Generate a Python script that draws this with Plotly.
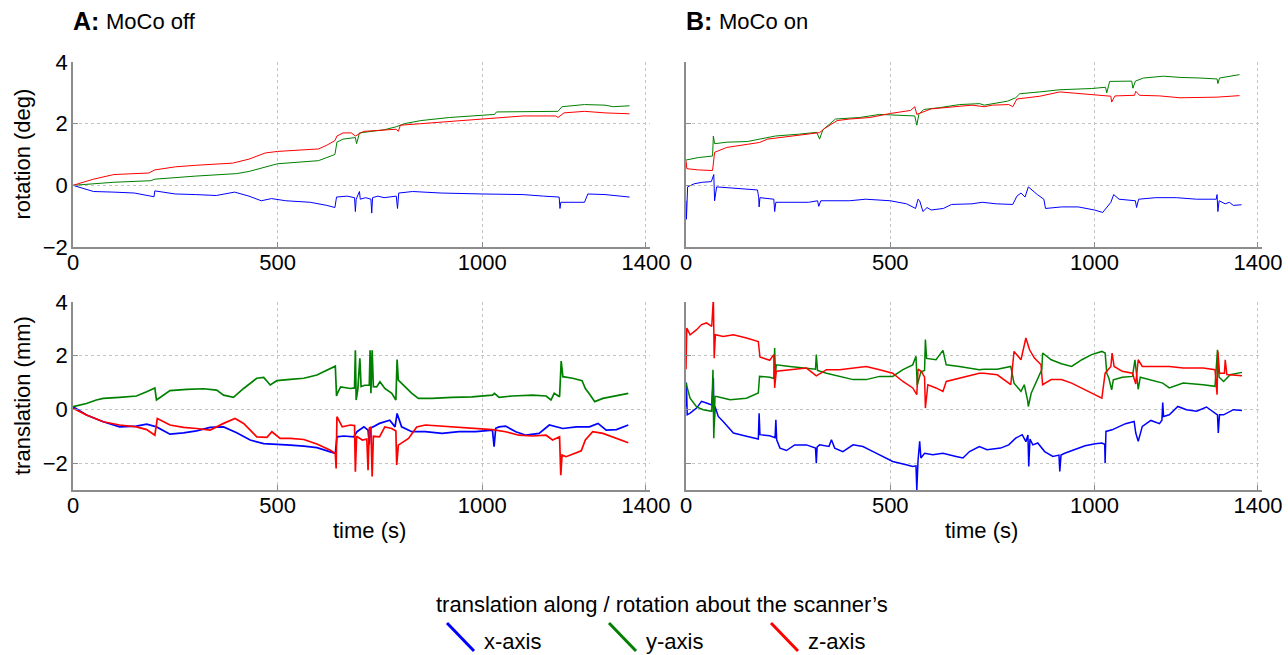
import plotly.graph_objects as go

# ---------------- data (time s, value) ----------------
# A: MoCo off, rotation (deg)
rotA_x = [(0,0),(50,-0.2),(100,-0.22),(150,-0.25),(190,-0.35),(198,-0.37),(200,-0.18),(250,-0.28),(300,-0.3),
          (350,-0.33),(395,-0.22),(430,-0.35),(460,-0.5),(485,-0.43),(520,-0.5),(580,-0.55),(620,-0.65),(640,-0.72),
          (644,-0.38),(670,-0.35),(688,-0.4),(690,-0.85),(692,-0.45),(700,-0.2),(702,-0.45),(715,-0.4),(728,-0.45),
          (730,-0.9),(732,-0.4),(745,-0.35),(760,-0.4),(790,-0.35),(793,-0.75),(796,-0.25),(830,-0.2),(900,-0.25),
          (1000,-0.28),(1050,-0.3),(1100,-0.3),(1150,-0.35),(1188,-0.38),(1190,-0.75),(1192,-0.55),(1250,-0.55),
          (1258,-0.28),(1300,-0.3),(1360,-0.38)]
rotA_y = [(0,0),(50,0.05),(100,0.1),(190,0.15),(200,0.2),(300,0.3),(400,0.38),(430,0.45),(470,0.6),(500,0.7),
          (550,0.75),(600,0.8),(640,1.0),(645,1.4),(660,1.5),(690,1.55),(693,1.35),(700,1.7),(760,1.8),(790,1.9),
          (810,2.0),(850,2.1),(920,2.2),(1000,2.27),(1030,2.3),(1035,2.38),(1150,2.4),(1185,2.4),(1195,2.55),
          (1250,2.62),(1300,2.6),(1320,2.55),(1360,2.58)]
rotA_z = [(0,0),(50,0.2),(100,0.35),(150,0.37),(185,0.4),(200,0.5),(250,0.6),(300,0.65),(350,0.7),(390,0.72),
          (430,0.85),(470,1.05),(500,1.1),(550,1.15),(600,1.18),(620,1.3),(640,1.45),(645,1.6),(660,1.7),(680,1.7),
          (690,1.6),(710,1.75),(760,1.8),(790,1.82),(795,1.75),(800,1.95),(850,2.0),(900,2.05),(950,2.1),(1000,2.15),
          (1050,2.2),(1100,2.25),(1180,2.25),(1185,2.2),(1200,2.35),(1250,2.4),(1300,2.35),(1360,2.32)]

# B: MoCo on, rotation (deg)
rotB_x = [(0,-0.5),(1,-1.1),(4,-0.05),(20,0.05),(40,0.1),(62,0.12),(68,0.35),(70,-0.5),(75,-0.05),(120,-0.1),
          (175,-0.15),(178,-0.4),(179,-0.7),(181,-0.4),(215,-0.45),(217,-0.85),(220,-0.55),(300,-0.55),(322,-0.5),
          (325,-0.68),(330,-0.5),(400,-0.5),(440,-0.45),(500,-0.5),(540,-0.6),(562,-0.75),(568,-0.45),(572,-0.5),
          (580,-0.85),(590,-0.72),(600,-0.8),(630,-0.75),(650,-0.62),(700,-0.6),(725,-0.55),(760,-0.6),(800,-0.62),
          (810,-0.35),(820,-0.25),(830,-0.38),(838,-0.05),(860,-0.3),(876,-0.45),(880,-0.75),(920,-0.7),(960,-0.7),
          (1000,-0.8),(1020,-0.88),(1030,-0.7),(1040,-0.55),(1047,-0.3),(1060,-0.45),(1100,-0.5),(1103,-0.72),
          (1108,-0.45),(1150,-0.4),(1200,-0.4),(1250,-0.45),(1298,-0.45),(1300,-0.3),(1302,-0.85),(1305,-0.5),
          (1320,-0.6),(1330,-0.55),(1340,-0.65),(1360,-0.63)]
rotB_y = [(0,0.82),(30,0.9),(65,0.95),(67,1.6),(70,1.35),(100,1.4),(150,1.42),(180,1.5),(219,1.6),(278,1.66),
          (320,1.72),(327,1.5),(335,1.8),(366,2.15),(425,2.2),(474,2.3),(523,2.27),(560,2.25),(565,1.95),(570,2.3),
          (582,2.46),(621,2.52),(670,2.62),(719,2.65),(730,2.6),(787,2.73),(807,2.84),(817,2.97),(866,3.03),
          (915,3.1),(993,3.14),(1027,3.18),(1030,3.0),(1037,3.37),(1091,3.38),(1094,3.15),(1100,3.38),(1120,3.48),
          (1169,3.54),(1209,3.5),(1258,3.48),(1300,3.45),(1302,3.3),(1306,3.48),(1355,3.59)]
rotB_z = [(0,0.8),(2,0.54),(30,0.5),(65,0.48),(70,1.07),(100,1.23),(150,1.33),(180,1.39),(200,1.5),(250,1.58),
          (300,1.65),(327,1.71),(340,1.85),(370,2.1),(400,2.15),(450,2.2),(500,2.33),(550,2.43),(560,2.55),
          (565,2.3),(600,2.48),(650,2.55),(700,2.6),(730,2.55),(750,2.6),(790,2.62),(800,2.55),(810,2.8),
          (866,2.89),(915,3.03),(993,2.95),(1030,2.9),(1040,2.89),(1042,2.7),(1050,2.9),(1098,2.92),(1101,3.05),
          (1110,2.92),(1160,2.9),(1209,2.84),(1258,2.84),(1300,2.86),(1355,2.91)]

# A: MoCo off, translation (mm)
trA_x = [(0,0.1),(33,-0.21),(74,-0.46),(114,-0.65),(155,-0.62),(180,-0.55),(204,-0.65),(237,-0.92),(270,-0.87),
         (302,-0.8),(335,-0.67),(368,-0.65),(400,-0.87),(433,-1.14),(466,-1.27),(498,-1.29),(531,-1.33),(564,-1.37),
         (596,-1.42),(629,-1.58),(641,-1.64),(645,-1.02),(662,-0.99),(686,-1.02),(694,-0.83),(711,-0.65),(721,-0.77),
         (724,-1.3),(727,-0.7),(749,-0.52),(774,-0.4),(787,-0.65),(792,-0.15),(803,-0.65),(828,-0.83),(861,-0.83),
         (902,-0.89),(943,-0.83),(984,-0.83),(1025,-0.77),(1029,-1.39),(1033,-0.7),(1041,-0.65),(1057,-0.62),
         (1082,-0.83),(1107,-0.96),(1139,-0.89),(1164,-0.58),(1180,-0.65),(1197,-0.71),(1230,-0.65),(1262,-0.65),
         (1283,-0.52),(1303,-0.77),(1328,-0.75),(1357,-0.58)]
trA_y = [(0,0.1),(33,0.22),(57,0.35),(74,0.41),(114,0.45),(155,0.5),(180,0.66),(200,0.8),(204,0.35),(221,0.53),
         (237,0.7),(278,0.75),(319,0.77),(351,0.72),(368,0.53),(392,0.45),(417,0.78),(449,1.16),(466,1.19),
         (482,0.91),(498,1.07),(531,1.12),(564,1.16),(596,1.28),(621,1.47),(641,1.61),(644,0.5),(646,0.6),
         (654,0.84),(678,0.78),(688,0.8),(690,2.2),(692,0.35),(696,0.75),(701,1.9),(704,0.85),(713,0.9),(724,0.9),
         (726,2.2),(728,0.6),(731,2.2),(734,0.85),(742,0.84),(750,1.03),(762,0.78),(779,0.6),(789,0.35),(792,1.86),
         (795,1.09),(811,0.84),(828,0.6),(844,0.41),(877,0.41),(926,0.45),(975,0.47),(1025,0.53),(1030,0.6),
         (1041,0.45),(1074,0.5),(1123,0.53),(1156,0.5),(1168,0.35),(1176,0.6),(1189,0.47),(1193,1.8),(1197,1.22),
         (1221,1.16),(1244,1.07),(1252,0.78),(1262,0.57),(1275,0.29),(1295,0.41),(1328,0.5),(1357,0.6)]
trA_z = [(0,0.04),(33,-0.21),(74,-0.46),(114,-0.58),(155,-0.65),(180,-0.75),(200,-0.96),(206,-0.34),(237,-0.58),
         (270,-0.67),(302,-0.71),(335,-0.77),(368,-0.52),(396,-0.34),(417,-0.52),(449,-1.02),(474,-1.04),
         (486,-0.83),(506,-1.08),(531,-1.08),(564,-1.12),(596,-1.29),(629,-1.52),(641,-1.64),(643,-2.2),
         (645,-0.27),(658,-0.65),(678,-0.58),(688,-0.6),(690,-2.32),(693,-1.0),(707,-1.14),(718,-1.1),(721,-2.26),
         (724,-0.7),(728,-0.65),(731,-2.5),(734,-1.0),(749,-1.02),(762,-0.65),(779,-0.71),(789,-0.8),(791,-2.07),
         (795,-1.33),(820,-1.08),(840,-0.65),(861,-0.58),(902,-0.62),(943,-0.65),(984,-0.71),(1025,-0.75),
         (1057,-0.83),(1090,-0.96),(1123,-0.99),(1156,-0.96),(1172,-1.14),(1189,-1.02),(1192,-2.45),(1195,-1.7),
         (1205,-1.76),(1221,-1.66),(1242,-1.54),(1252,-1.14),(1270,-0.83),(1295,-0.89),(1328,-1.08),(1357,-1.24)]

# B: MoCo on, translation (mm)
trB_x = [(0,0.1),(1,1.0),(3,-0.2),(10,-0.14),(26,0.05),(38,0.3),(50,0.24),(63,0.17),(67,1.17),(69,-0.63),
         (71,0.11),(79,-0.26),(91,-0.45),(116,-0.88),(148,-1.0),(177,-1.1),(179,-0.14),(181,-0.94),(205,-0.98),
         (218,-1.05),(220,-0.39),(222,-1.13),(230,-1.44),(246,-1.53),(266,-1.32),(295,-1.32),(317,-1.44),
         (319,-2.0),(321,-1.4),(327,-1.32),(350,-1.38),(356,-1.13),(364,-1.44),(384,-1.57),(409,-1.32),
         (433,-1.38),(458,-1.57),(482,-1.75),(506,-1.94),(539,-2.06),(555,-2.12),(563,-2.1),(565,-3.0),
         (568,-1.9),(572,-1.19),(575,-1.81),(584,-1.63),(604,-1.69),(629,-1.63),(661,-1.75),(678,-1.81),
         (694,-1.57),(718,-1.38),(737,-1.5),(770,-1.44),(790,-1.32),(807,-1.07),(823,-0.94),(832,-1.2),
         (837,-0.95),(839,-2.12),(842,-1.1),(849,-1.32),(861,-1.25),(878,-1.57),(898,-1.75),(913,-1.7),
         (915,-2.31),(918,-1.7),(927,-1.63),(952,-1.5),(977,-1.35),(1002,-1.28),(1018,-1.25),(1025,-1.3),
         (1026,-2.0),(1028,-0.82),(1043,-0.76),(1076,-0.53),(1097,-0.45),(1101,-0.88),(1107,-1.19),(1117,-0.63),
         (1138,-0.41),(1159,-0.53),(1165,-0.4),(1167,0.26),(1169,-0.26),(1183,-0.2),(1204,0.11),(1225,-0.01),
         (1250,-0.07),(1274,0.09),(1295,-0.14),(1301,-0.2),(1303,-0.88),(1306,-0.2),(1316,-0.2),(1340,-0.01),
         (1361,-0.04)]
trB_y = [(0,0.98),(10,0.42),(26,0.09),(42,-0.01),(63,-0.07),(66,1.48),(68,-1.07),(71,0.48),(75,0.48),(108,0.36),
         (148,0.42),(177,0.61),(180,1.23),(205,1.2),(215,1.15),(217,2.29),(219,1.3),(221,1.66),(254,1.6),
         (295,1.54),(317,1.5),(319,2.04),(322,1.45),(344,1.35),(376,1.23),(409,1.11),(441,1.11),(474,1.23),
         (506,1.23),(531,1.48),(555,1.66),(563,1.98),(566,0.9),(575,1.4),(584,1.45),(586,2.6),(589,1.9),
         (612,1.85),(629,2.2),(637,1.66),(669,1.6),(718,1.48),(729,1.5),(762,1.5),(795,1.6),(803,0.98),
         (820,0.67),(828,0.92),(836,0.36),(838,0.11),(845,0.6),(861,1.11),(871,1.48),(873,2.1),(894,1.85),
         (919,1.7),(944,1.6),(969,1.85),(993,2.04),(1018,2.16),(1026,2.1),(1030,1.35),(1035,1.17),(1042,0.73),
         (1046,1.1),(1068,1.2),(1093,1.23),(1099,1.85),(1103,1.23),(1107,0.75),(1112,1.2),(1134,1.11),
         (1167,0.98),(1183,0.8),(1217,0.98),(1266,0.92),(1295,0.86),(1301,2.22),(1305,1.2),(1316,1.04),
         (1332,1.29),(1361,1.38)]
trB_z = [(0,1.5),(2,3.03),(10,2.78),(26,2.97),(38,3.16),(50,3.22),(63,3.09),(67,4.15),(69,1.91),(72,2.78),
         (91,2.72),(116,2.78),(148,2.66),(177,2.53),(181,1.95),(205,1.83),(215,2.04),(217,0.8),(221,1.42),
         (254,1.48),(295,1.54),(319,1.25),(344,1.48),(376,1.48),(409,1.54),(441,1.6),(474,1.48),(506,1.35),
         (531,1.04),(555,0.8),(565,0.55),(568,1.5),(576,1.42),(584,1.2),(586,0.05),(592,0.92),(612,0.8),
         (629,0.67),(637,1.04),(669,1.17),(718,1.35),(729,1.35),(762,1.29),(795,0.92),(803,2.16),(820,1.85),
         (832,2.66),(841,2.22),(853,1.91),(869,1.66),(873,0.92),(894,1.11),(919,1.11),(944,0.98),(969,0.8),
         (993,0.61),(1018,0.42),(1026,1.35),(1040,1.6),(1043,2.1),(1048,1.6),(1068,1.42),(1093,1.35),
         (1101,0.95),(1107,1.85),(1117,1.6),(1150,1.6),(1183,1.6),(1217,1.54),(1266,1.54),(1295,1.48),
         (1300,0.55),(1302,2.16),(1306,1.35),(1318,1.35),(1320,1.85),(1324,1.3),(1332,1.29),(1361,1.25)]

x_ticks = [0, 500, 1000, 1400]
rot_ticks = [-2, 0, 2, 4]
tr_ticks = [-2, 0, 2, 4]
axis_names = ["x-axis", "y-axis", "z-axis"]
colors = ["#0000ff", "#008000", "#ff0000"]

# ---------------- figure ----------------
W, H = 1288, 655
FONT = "Liberation Sans, Arial, sans-serif"

def px(x):
    return x / W

def py(y):
    return 1 - y / H

fig = go.Figure()

panels = [
    ("x", "y", [rotA_x, rotA_y, rotA_z], 1.0),
    ("x2", "y2", [rotB_x, rotB_y, rotB_z], 1.0),
    ("x3", "y3", [trA_x, trA_y, trA_z], 1.7),
    ("x4", "y4", [trB_x, trB_y, trB_z], 1.5),
]
for xa, ya, series, lw in panels:
    for s, c, name in zip(series, colors, axis_names):
        t = [p[0] for p in s]
        v = [p[1] for p in s]
        fig.add_trace(go.Scatter(x=t, y=v, mode="lines", xaxis=xa, yaxis=ya,
                                 line=dict(color=c, width=lw), name=name,
                                 showlegend=False, hoverinfo="skip"))

common = dict(showline=True, linecolor="#8c8c8c", linewidth=1.5, ticks="inside", ticklen=5,
              tickcolor="#8c8c8c", tickwidth=1, showgrid=True, gridcolor="#c4c4c4", griddash="dot",
              gridwidth=1, zeroline=False, mirror=False, automargin=False, ticklabeloverflow="allow",
              tickfont=dict(family=FONT, size=22, color="black"))
xcommon = dict(ticklabelstandoff=-5, **common)
ycommon = dict(ticklabelstandoff=-1, **common)

xdomL = [px(73), px(650)]
xdomR = [px(686), px(1262)]
ydomT = [py(247), py(62)]
ydomB = [py(490), py(302)]

fig.update_layout(
    template="none",
    width=W, height=H, paper_bgcolor="white", plot_bgcolor="white",
    margin=dict(l=0, r=0, t=0, b=0, pad=0), showlegend=False,
    xaxis=dict(domain=xdomL, anchor="y", range=[0, 1410], tickvals=x_ticks, **xcommon),
    yaxis=dict(domain=ydomT, anchor="x", range=[-2, 4], tickvals=rot_ticks, **ycommon),
    xaxis2=dict(domain=xdomR, anchor="y2", range=[0, 1410], tickvals=x_ticks, **xcommon),
    yaxis2=dict(domain=ydomT, anchor="x2", range=[-2, 4], tickvals=rot_ticks, showticklabels=False, **ycommon),
    xaxis3=dict(domain=xdomL, anchor="y3", range=[0, 1410], tickvals=x_ticks, **xcommon),
    yaxis3=dict(domain=ydomB, anchor="x3", range=[-3, 4], tickvals=tr_ticks, **ycommon),
    xaxis4=dict(domain=xdomR, anchor="y4", range=[0, 1410], tickvals=x_ticks, **xcommon),
    yaxis4=dict(domain=ydomB, anchor="x4", range=[-3, 4], tickvals=tr_ticks, showticklabels=False, **ycommon),
)

ann = []
def add_text(text, x, y, size, xanchor="center", yanchor="middle", angle=0):
    ann.append(dict(text=text, x=x, y=y, xref="paper", yref="paper", showarrow=False,
                    xanchor=xanchor, yanchor=yanchor, textangle=angle,
                    font=dict(family=FONT, size=size, color="black")))

add_text("<b>A:</b>", px(71), py(21), 25, xanchor="left")
add_text("MoCo off", px(104), py(22), 22, xanchor="left")
add_text("<b>B:</b>", px(684), py(21), 25, xanchor="left")
add_text("MoCo on", px(717), py(22), 22, xanchor="left")
add_text("rotation (deg)", px(22), py(154.5), 22, angle=-90)
add_text("translation (mm)", px(22), py(396), 22, angle=-90)
add_text("time (s)", px(369), py(530), 22)
add_text("time (s)", px(981), py(530), 22)
add_text("translation along / rotation about the scanner\u2019s", px(662), py(604), 22)

shapes = []
glyph_x = [447, 609, 771]
for gx, c, name in zip(glyph_x, colors, axis_names):
    shapes.append(dict(type="line", xref="paper", yref="paper",
                       x0=px(gx), y0=py(623), x1=px(gx + 27), y1=py(651),
                       line=dict(color=c, width=3)))
    add_text(name, px(gx + 35), py(641), 22, xanchor="left")

fig.update_layout(annotations=ann, shapes=shapes)

# remove the browser's default 8 px page margin so the figure fills the window exactly
fig.write_html("out.html", config={"displayModeBar": False},
               post_script="document.body.style.margin='0';document.body.style.overflow='hidden';")
